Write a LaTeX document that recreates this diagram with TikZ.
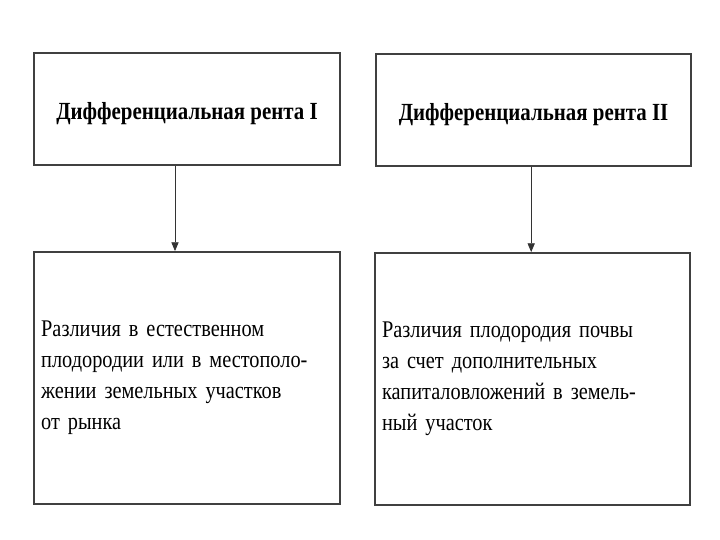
\documentclass[tikz,border=0pt]{standalone}
\usepackage{fontspec}
\setmainfont[FakeStretch=0.85]{Liberation Serif}
\usetikzlibrary{
    positioning,
    arrows.meta
}
\tikzset{
    >={Triangle[length=2.2mm,width=1.8mm]},
    rentbox/.style={
        draw=black!75,
        line width=1.3pt,
        minimum height=2.8cm,
        text height=15pt,
        text depth=-5pt,
        font=\fontsize{17.5}{21}\selectfont\bfseries
    },
    causebox/.style={
        draw=black!75,
        line width=1.3pt,
        align=left,
        inner xsep=0.18cm,
        minimum height=6.3cm,
        font=\fontsize{17}{22}\selectfont
    }
}

\begin{document}
\begin{tikzpicture}[
    >={Triangle[length=2.2mm,width=1.8mm]}
]
    \useasboundingbox (0,0) rectangle (18,13.5);

    % Виды ренты
    \node[rentbox, minimum width=7.65cm]  (r1) at (4.675,10.775) {Дифференциальная рента I};
    \node[rentbox, minimum width=7.875cm] (r2) at (13.34,10.75)  {Дифференциальная рента II};

    % Причины
    \node[causebox, text width=7.29cm]  (c1) at (4.675,4.05)
        {Различия в естественном\\ плодородии или в местополо-\\ жении земельных участков\\ от рынка};
    \node[causebox, text width=7.515cm] (c2) at (13.31,4.025)
        {Различия плодородия почвы\\ за счет дополнительных\\ капиталовложений в земель-\\ ный участок};

    % Стрелки
    \path[->, line width=0.6pt, black!80]
        ([xshift=-0.3cm]r1.south) edge ([xshift=-0.3cm]r1.south |- c1.north)
        ([xshift=-0.06cm]r2.south) edge ([xshift=-0.06cm]r2.south |- c2.north);

\end{tikzpicture}
\end{document}
